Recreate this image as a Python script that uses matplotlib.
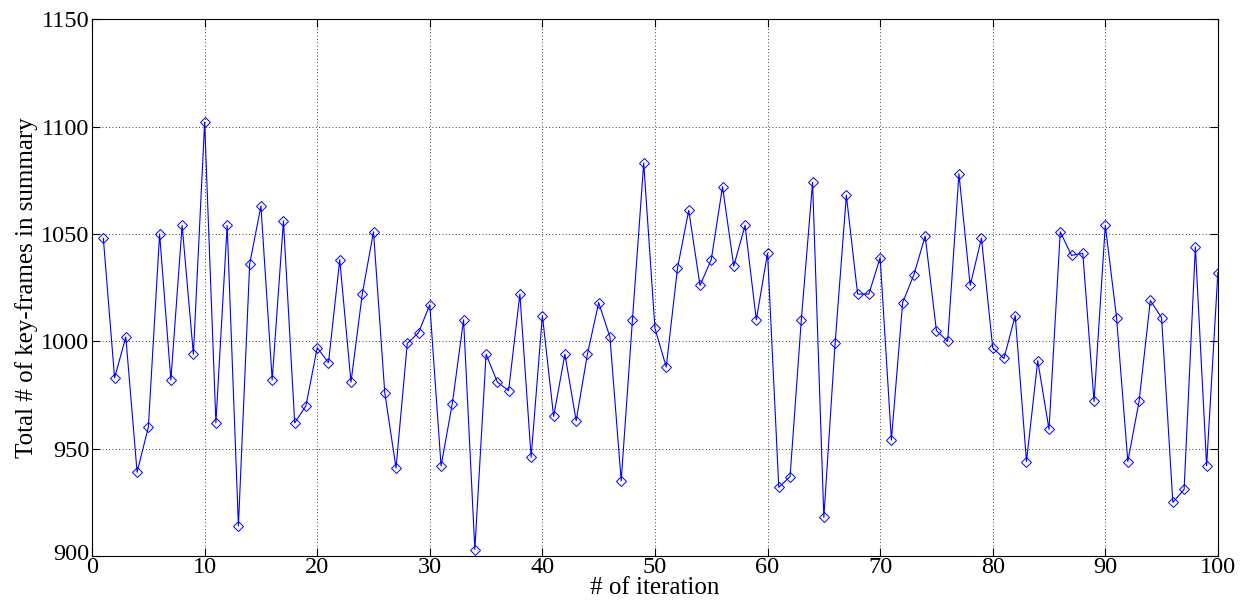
import numpy as np
import matplotlib.pyplot as plt
import matplotlib.transforms as mtransforms

plt.rcParams['font.family'] = ['Liberation Serif', 'DejaVu Serif']

iterations = list(range(1, 101))
keyframes = [
    1048, 983, 1002, 939, 960, 1050, 982, 1054, 994, 1102,
    962, 1054, 914, 1036, 1063, 982, 1056, 962, 970, 997,
    990, 1038, 981, 1022, 1051, 976, 941, 999, 1004, 1017,
    942, 971, 1010, 903, 994, 981, 977, 1022, 946, 1012,
    965, 994, 963, 994, 1018, 1002, 935, 1010, 1083, 1006,
    988, 1034, 1061, 1026, 1038, 1072, 1035, 1054, 1010, 1041,
    932, 937, 1010, 1074, 918, 999, 1068, 1022, 1022, 1039,
    954, 1018, 1031, 1049, 1005, 1000, 1078, 1026, 1048, 997,
    992, 1012, 944, 991, 959, 1051, 1040, 1041, 972, 1054,
    1011, 944, 972, 1019, 1011, 925, 931, 1044, 942, 1032,
]
x_ticks = list(range(0, 101, 10))
y_ticks = list(range(900, 1151, 50))

fig = plt.figure(figsize=(12.44, 6.10), dpi=100)
ax = fig.add_axes([0.074, 0.0885, 0.905, 0.880])

ax.plot(iterations, keyframes, color='#0000ff', linewidth=0.8,
        marker='D', markersize=5.5, markerfacecolor='none',
        markeredgecolor='#0000ff', markeredgewidth=0.7)

ax.set_xlim(0, 100)
ax.set_ylim(900, 1150)
ax.set_xticks(x_ticks)
ax.set_yticks(y_ticks)
ax.tick_params(direction='in', top=True, right=True, length=6,
               labelsize=17.5)
ax.tick_params(axis='y', pad=2)
ax.tick_params(axis='x', pad=1)
ax.grid(True, color='black', linestyle=(0, (1, 3)), linewidth=0.6)
for s in ax.spines.values():
    s.set_linewidth(0.8)

# lift the bottom y label a bit so it does not run into the "0" below it
lbl = ax.get_yticklabels()[0]
lbl.set_transform(lbl.get_transform() +
                  mtransforms.ScaledTranslation(0, 4 / 100, fig.dpi_scale_trans))

ax.set_xlabel('# of iteration', fontsize=18, labelpad=-1)
ax.set_ylabel('Total # of key-frames in summary', fontsize=18, labelpad=2)

fig.savefig('out.png', dpi=100)
